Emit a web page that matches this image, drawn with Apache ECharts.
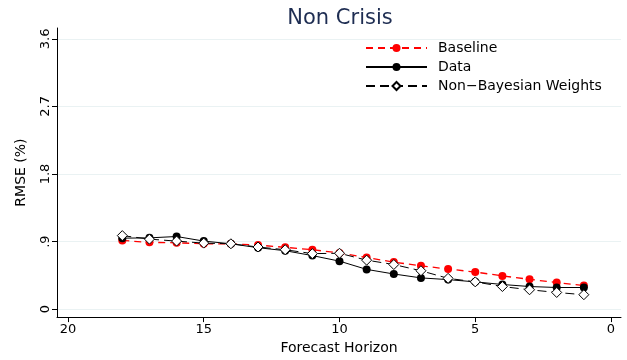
<!DOCTYPE html>
<html>
<head>
<meta charset="utf-8">
<title>Non Crisis</title>
<script src="https://cdn.jsdelivr.net/npm/echarts@6/dist/echarts.min.js"></script>
<style>
  html, body { margin: 0; padding: 0; background: #ffffff; }
  #chart { width: 627px; height: 360px; }
</style>
</head>
<body>
<div id="chart"></div>
<script>
// Forecast horizons (quarters ahead), plotted right-to-left
const horizons = [18, 17, 16, 15, 14, 13, 12, 11, 10, 9, 8, 7, 6, 5, 4, 3, 2, 1];

// RMSE (%) by horizon
const baseline = [0.916, 0.890, 0.884, 0.871, 0.871, 0.854, 0.824, 0.792, 0.749, 0.687, 0.627, 0.578, 0.535, 0.495, 0.443, 0.398, 0.355, 0.315];
const dataRmse = [0.946, 0.950, 0.968, 0.907, 0.871, 0.819, 0.779, 0.714, 0.640, 0.530, 0.469, 0.417, 0.394, 0.364, 0.329, 0.302, 0.289, 0.289];
const nonBayes = [0.980, 0.933, 0.907, 0.880, 0.871, 0.828, 0.792, 0.740, 0.745, 0.653, 0.595, 0.512, 0.411, 0.364, 0.302, 0.259, 0.223, 0.193];

// Axis ticks
const xTickValues = [20, 15, 10, 5, 0];
const yTickValues = [0, 0.9, 1.8, 2.7, 3.6];
const yTickLabels = ['0', '.9', '1.8', '2.7', '3.6'];

const FONT = 'DejaVu Sans';

function pairs(values) {
  return horizons.map((h, i) => [h, values[i]]);
}

const chart = echarts.init(document.getElementById('chart'), null, { renderer: 'canvas' });

chart.setOption({
  animation: false,
  backgroundColor: '#ffffff',
  textStyle: { fontFamily: FONT },
  title: {
    text: 'Non Crisis',
    left: 340,
    textAlign: 'center',
    top: 8,
    padding: 0,
    textStyle: { fontFamily: FONT, fontSize: 21, fontWeight: 'normal', color: '#1e2d52' }
  },
  legend: {
    orient: 'vertical',
    left: 365,
    top: 41,
    padding: 0,
    itemWidth: 61,
    itemHeight: 10,
    itemGap: 5,
    selectedMode: false,
    textStyle: { fontFamily: FONT, fontSize: 14, color: '#000000', padding: [0, 0, 0, 6] },
    data: ['Baseline', 'Data', 'Non\u2212Bayesian Weights']
  },
  grid: { left: 57, right: 6, top: 28, bottom: 39, containLabel: false },
  xAxis: {
    type: 'value',
    inverse: true,
    position: 'bottom',
    min: -0.368,
    max: 20.405,
    name: 'Forecast Horizon',
    nameLocation: 'middle',
    nameGap: 20,
    nameTextStyle: { fontFamily: FONT, fontSize: 14, color: '#000000' },
    axisLine: { show: true, onZero: false, lineStyle: { color: '#000000', width: 1 } },
    axisTick: { show: true, length: 5, lineStyle: { color: '#000000' }, customValues: xTickValues },
    axisLabel: { fontFamily: FONT, fontSize: 13, color: '#000000', margin: 6, customValues: xTickValues },
    splitLine: { show: false }
  },
  yAxis: {
    type: 'value',
    position: 'left',
    min: -0.1051,
    max: 3.7445,
    name: 'RMSE (%)',
    nameLocation: 'middle',
    nameRotate: 90,
    nameGap: 29,
    nameTextStyle: { fontFamily: FONT, fontSize: 14, color: '#000000' },
    axisLine: { show: true, onZero: false, lineStyle: { color: '#000000', width: 1 } },
    axisTick: { show: true, length: 5, lineStyle: { color: '#000000' }, customValues: yTickValues },
    axisLabel: {
      fontFamily: FONT, fontSize: 13, color: '#000000', rotate: 90, margin: 5,
      customValues: yTickValues,
      formatter: v => {
        const i = yTickValues.findIndex(t => Math.abs(t - v) < 1e-6);
        return i >= 0 ? yTickLabels[i] : '';
      }
    },
    splitLine: { show: true, lineStyle: { color: '#eaf2f3', width: 1 } }
  },
  series: [
    {
      name: 'Baseline',
      type: 'line',
      data: pairs(baseline),
      symbol: 'circle',
      symbolSize: 8,
      itemStyle: { color: '#ff0000', borderWidth: 0 },
      lineStyle: { color: '#ff0000', width: 1.3, type: [7, 5] },
      z: 2
    },
    {
      name: 'Data',
      type: 'line',
      data: pairs(dataRmse),
      symbol: 'circle',
      symbolSize: 8,
      itemStyle: { color: '#000000', borderWidth: 0 },
      lineStyle: { color: '#000000', width: 1 },
      z: 3
    },
    {
      name: 'Non\u2212Bayesian Weights',
      type: 'line',
      data: pairs(nonBayes),
      symbol: 'diamond',
      symbolSize: 10,
      itemStyle: { color: '#ffffff', borderColor: '#000000', borderWidth: 1 },
      lineStyle: { color: '#000000', width: 1, type: [9, 5] },
      z: 4
    }
  ]
});
</script>
</body>
</html>
